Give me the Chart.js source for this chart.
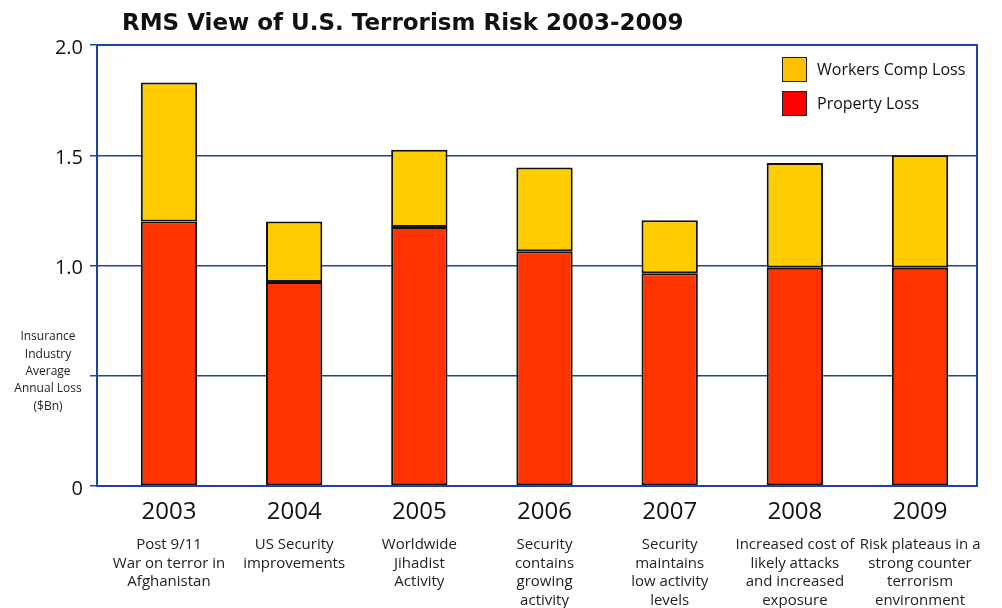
<!DOCTYPE html>
<html>
<head>
<meta charset="utf-8">
<script src="https://cdn.jsdelivr.net/npm/chart.js@4.4.1/dist/chart.umd.min.js"></script>
<style>
html,body{margin:0;padding:0;background:#fff}
</style>
</head>
<body>
<canvas id="chart" width="1002" height="608"></canvas>
<script>
// data
const years = ["2003","2004","2005","2006","2007","2008","2009"]
const notes = [
["Post 9/11","War on terror in","Afghanistan"],
["US Security","improvements"],
["Worldwide","Jihadist","Activity"],
["Security","contains","growing","activity"],
["Security","maintains","low activity","levels"],
["Increased cost of","likely attacks","and increased","exposure"],
["Risk plateaus in a","strong counter","terrorism","environment"]
]
const propertyLoss = [1.20,0.925,1.175,1.065,0.965,0.99,0.99]
const workersLoss = [0.63,0.275,0.35,0.38,0.24,0.475,0.51]
const yTickLabels = {"0":"0","0.5":"","1":"1.0","1.5":"1.5","2":"2.0"}
const yTitle = ["Insurance","Industry","Average","Annual Loss","($Bn)"]
const chartTitle = "RMS View of U.S. Terrorism Risk 2003-2009"
const legendColors = ["#FF0000","#FFC000"]

const blue = "#1F43A3"
const font = "'Open Sans', sans-serif"

// bars sit a bit right of a plain category layout, so use a numeric x axis
const toPoints = arr => arr.map((v,i)=>({x:i,y:v}))

// extra text + frame + legend
const extras = {
id:"extras",
afterDraw(chart){
const c = chart.ctx
const a = chart.chartArea
const x = chart.scales.x

c.save()

// frame
c.strokeStyle = blue
c.lineWidth = 2
c.strokeRect(a.left, a.top, a.right-a.left, a.bottom-a.top)

// title
c.fillStyle = "#111"
c.font = "bold 23px 'DejaVu Sans', sans-serif"
c.textAlign = "left"
c.textBaseline = "middle"
c.fillText(chartTitle, 122, 24)

// y axis title
c.font = "12px " + font
c.fillStyle = "#222"
c.textAlign = "center"
yTitle.forEach((t,i)=> c.fillText(t, 48, 337 + i*17.3))

// notes under each year
c.font = "15px " + font
notes.forEach((lines,i)=>{
const px = x.getPixelForValue(i)
lines.forEach((t,j)=> c.fillText(t, px, 545 + j*18.5))
})

// legend, top item is the top stack
const ds = chart.data.datasets
c.font = "16px " + font
c.textAlign = "left"
for(let k=0;k<ds.length;k++){
const idx = ds.length-1-k
const by = 57 + k*34
c.fillStyle = legendColors[idx]
c.fillRect(782, by, 25, 25)
c.strokeStyle = "#222"
c.lineWidth = 1
c.strokeRect(782.5, by+0.5, 24, 24)
c.fillStyle = "#111"
c.fillText(ds[idx].label, 817, by+13)
}

c.restore()
}
}

new Chart(document.getElementById("chart"),{
type:"bar",
data:{
datasets:[
{
label:"Property Loss",
data:toPoints(propertyLoss),
backgroundColor:"#FF3300",
borderColor:"#111",
borderWidth:2,
borderSkipped:false
},
{
label:"Workers Comp Loss",
data:toPoints(workersLoss),
backgroundColor:"#FFCC00",
borderColor:"#111",
borderWidth:2,
borderSkipped:false
}
]
},
options:{
responsive:false,
animation:false,
layout:{padding:{top:45,right:25,left:0,bottom:0}},
plugins:{legend:{display:false},tooltip:{enabled:false}},
datasets:{bar:{categoryPercentage:1,barPercentage:0.45}},
scales:{
x:{
type:"linear",
stacked:true,
offset:false,
min:-0.575,
max:6.455,
grid:{display:false,drawTicks:false},
border:{display:false},
ticks:{padding:12,color:"#111",font:{family:font,size:24},callback:v=> years[v] ?? ""},
afterBuildTicks(s){ s.ticks = years.map((_,i)=>({value:i})) },
afterFit(s){ s.height = 122 }
},
y:{
stacked:true,
min:0,
max:2,
grid:{color:blue,lineWidth:1.5,tickLength:7,tickColor:blue},
border:{display:false},
ticks:{
stepSize:0.5,
padding:7,
labelOffset:3,
color:"#111",
font:{family:font,size:20},
callback:v=> yTickLabels[String(v)]
},
afterFit(s){ s.width = 97 }
}
}
},
plugins:[extras]
})
</script>
</body>
</html>
